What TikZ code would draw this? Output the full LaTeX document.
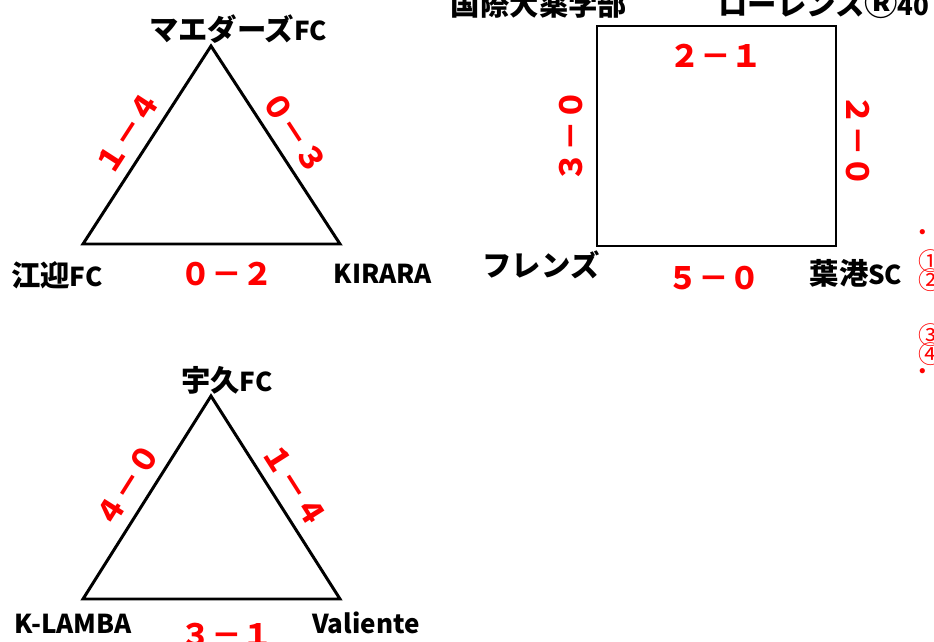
\documentclass[tikz,border=0pt]{standalone}
\usepackage{fontspec}
\setmainfont{Noto Sans CJK JP}
\usetikzlibrary{positioning}
\definecolor{ink}{HTML}{000000}
\definecolor{scorered}{HTML}{FF0000}
\newcommand\latn[1]{{\fontsize{14.8}{16}\selectfont #1}}
\tikzset{
  every node/.style={inner sep=0pt},
  team/.style={font=\bfseries\fontsize{16.7}{18}\selectfont, text=ink},
  teamlat/.style={team, font=\bfseries\fontsize{14.8}{16}\selectfont},
  score/.style={font=\bfseries\fontsize{17.5}{19}\selectfont, text=scorered},
  side/.style={draw=ink, line width=1.7pt, line join=miter},
  note/.style={font=\fontsize{14}{15}\selectfont, text=scorered, anchor=west},
}

\begin{document}
\begin{tikzpicture}[x=0.02cm, y=-0.02cm]
\useasboundingbox (0,0) rectangle (934,642);

% league A
\coordinate (a1) at (211,46);
\coordinate (a2) at (83,244);
\coordinate (a3) at (340,244);
\draw[side] (a2) -- node[score, sloped, above=5.5pt] (sa12) {１－４} (a1)
  -- node[score, sloped, above=5.5pt] (sa13) {０－３} (a3) -- cycle;
\node[score] (sa23) at (227,274) {０－２};
\node[team] (ta1) at (238,29) {マエダーズ\latn{FC}};
\node[team] (ta2) at (57,275) {江迎\latn{FC}};
\node[teamlat] (ta3) at (383,274) {KIRARA};

% league B
\coordinate (b1) at (211,396);
\coordinate (b2) at (83,599);
\coordinate (b3) at (340,599);
\draw[side] (b2) -- node[score, sloped, above=5.5pt] (sb12) {４－０} (b1)
  -- node[score, sloped, above=5.5pt] (sb13) {１－４} (b3) -- cycle;
\node[score] (sb23) at (227,635) {３－１};
\node[team] (tb1) at (227,380) {宇久\latn{FC}};
\node[teamlat] (tb2) at (73,624) {K-LAMBA};
\node[teamlat] (tb3) at (366,623) {Valiente};

% league C
\coordinate (c1) at (597,26);
\coordinate (c2) at (836,26);
\coordinate (c3) at (836,246);
\coordinate (c4) at (597,246);
\draw[side] (c1) -- (c2) -- (c3) -- (c4) -- cycle;
\node[score] (sc12) at (716,56) {２－１};
\node[score, rotate=-90] (sc23) at (858,141) {２－０};
\node[score] (sc34) at (714,278) {５－０};
\node[score, rotate=90] (sc14) at (571,136) {３－０};
\node[team, anchor=base] (tc1) at (539,16) {国際大薬学部};
\node[team, anchor=base west] (tc2) at (718,16) {ローレンス{\fontsize{19}{20}\selectfont Ⓡ}\latn{40}};
\node[team] (tc3) at (856,273) {葉港\latn{SC}};
\node[team] (tc4) at (541,265) {フレンズ};

% notes, cut by the edge
\node[note] (n0) at (910,236) {・};
\node[note] (n1) at (918,261) {①};
\node[note] (n2) at (918,280) {②};
\node[note] (n3) at (918,335) {③};
\node[note] (n4) at (918,354) {④};
\node[note] (n5) at (910,375) {・};
\end{tikzpicture}
\end{document}
